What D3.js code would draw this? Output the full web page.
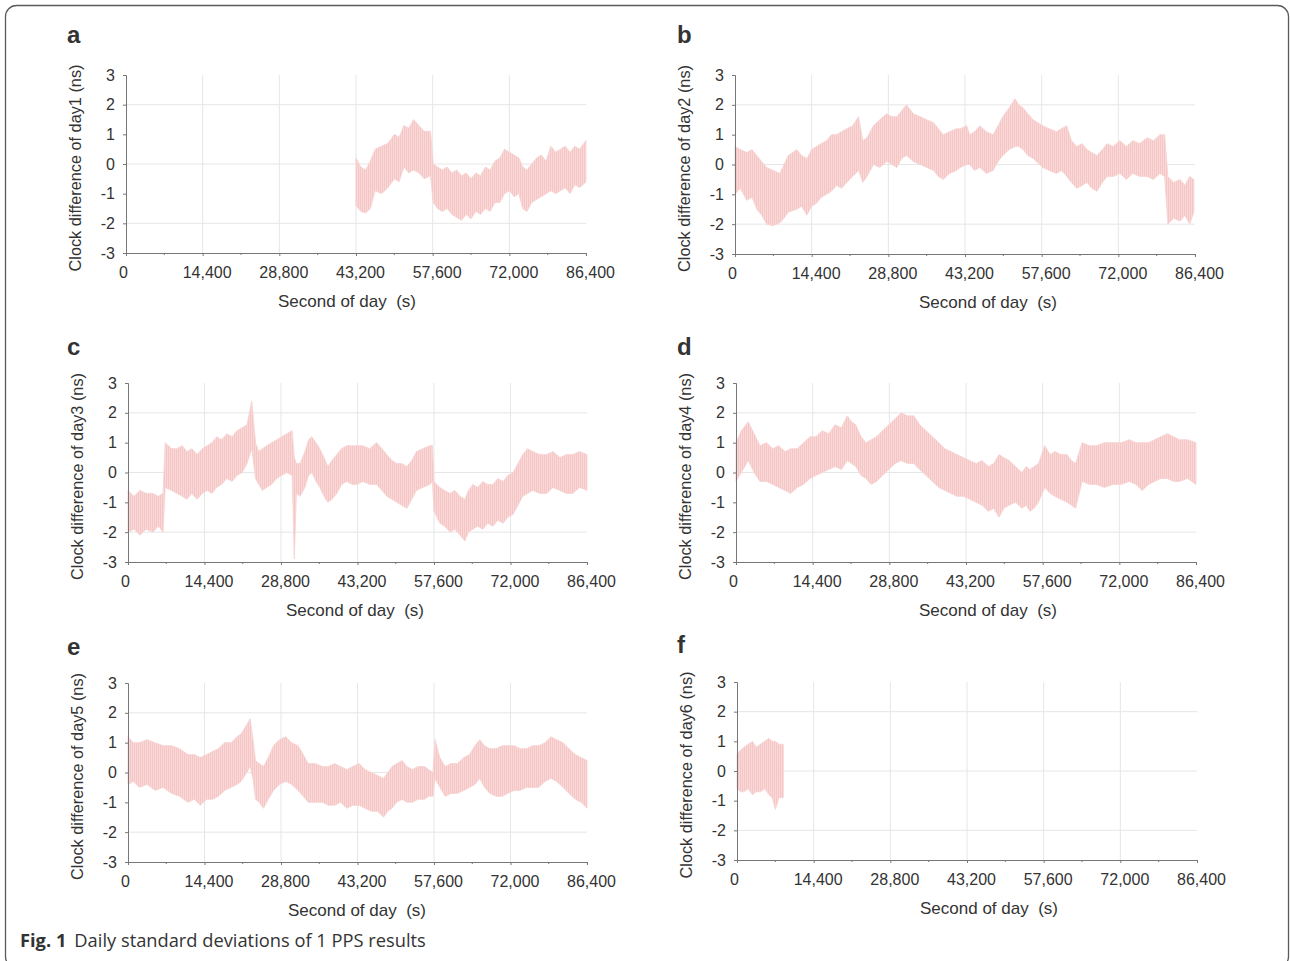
<!DOCTYPE html>
<html>
<head>
<meta charset="utf-8">
<script src="https://cdn.jsdelivr.net/npm/d3@7"></script>
<style>
  body { margin: 0; background: #fff; }
  svg { display: block; }
  text { font-family: "Liberation Sans", Arial, sans-serif; fill: #333; }
</style>
</head>
<body>
<div id="wrapper"></div>
<script>
// each row: [second of day, band low (ns), band high (ns)]
const day1 = [
  [43200, -1.4, 0.2], [44100, -1.6, -0.1], [45000, -1.65, -0.2], [45900, -1.5, 0.1],
  [46800, -0.9, 0.5], [48000, -1.0, 0.6], [49200, -0.8, 0.7], [50400, -0.5, 1.0],
  [51300, -0.6, 0.9], [52200, -0.1, 1.3], [53100, -0.3, 1.2], [54000, -0.2, 1.5],
  [55000, -0.3, 1.3], [56000, -0.5, 1.1], [57200, -0.4, 1.1], [57700, -1.3, 0.0],
  [58500, -1.5, -0.1], [59400, -1.6, -0.2], [60300, -1.5, -0.1], [61200, -1.7, -0.3],
  [62100, -1.8, -0.2], [63000, -1.9, -0.4], [63900, -1.7, -0.3], [64800, -1.85, -0.5],
  [65700, -1.6, -0.3], [66600, -1.7, -0.4], [67500, -1.5, -0.1], [68400, -1.6, -0.2],
  [69300, -1.3, 0.1], [70200, -1.3, 0.2], [71100, -1.0, 0.5], [72000, -0.9, 0.4],
  [72900, -1.1, 0.3], [73800, -1.0, 0.2], [74500, -1.5, -0.1], [75300, -1.6, -0.2],
  [76200, -1.3, 0.0], [77100, -1.2, 0.2], [78000, -1.1, 0.3], [78900, -1.0, 0.1],
  [79800, -0.9, 0.6], [80700, -1.0, 0.4], [81600, -0.9, 0.5], [82500, -0.8, 0.6],
  [83400, -1.0, 0.4], [84300, -0.7, 0.6], [85200, -0.8, 0.5], [86400, -0.6, 0.8]
]
const day2 = [
  [0, -1.0, 0.6], [1000, -0.8, 0.5], [2200, -1.2, 0.4], [3200, -1.1, 0.5],
  [4100, -1.5, 0.3], [5000, -1.7, 0.1], [5950, -2.0, -0.1], [7200, -2.05, -0.2],
  [8450, -1.95, -0.3], [9200, -1.8, 0.0], [10000, -1.6, 0.3], [11600, -1.5, 0.5],
  [12500, -1.4, 0.3], [13500, -1.7, 0.2], [14400, -1.4, 0.5], [15300, -1.3, 0.6],
  [16200, -1.1, 0.7], [17200, -1.0, 0.8], [18100, -0.9, 1.0], [19100, -0.7, 1.0],
  [20000, -0.8, 1.1], [21000, -0.6, 1.2], [22100, -0.4, 1.3], [23200, -0.2, 1.6],
  [24000, -0.6, 0.8], [24800, -0.4, 0.9], [26000, 0.0, 1.3], [27200, -0.1, 1.5],
  [28500, 0.1, 1.7], [29500, 0.0, 1.6], [30400, -0.1, 1.6], [31300, 0.2, 1.8],
  [32200, 0.3, 2.0], [33500, 0.1, 1.7], [34800, 0.0, 1.6], [36000, -0.1, 1.5],
  [37300, -0.2, 1.4], [38200, -0.4, 1.2], [39100, -0.5, 1.0], [40300, -0.3, 1.1],
  [41600, -0.2, 1.2], [42300, -0.1, 1.2], [43500, 0.0, 1.3], [44100, 0.0, 1.0],
  [45000, -0.2, 1.1], [46000, -0.1, 1.3], [47200, -0.3, 1.1], [48500, -0.2, 1.0],
  [49400, 0.1, 1.3], [50300, 0.3, 1.6], [51500, 0.5, 1.9], [52600, 0.6, 2.2],
  [53300, 0.6, 2.0], [54100, 0.5, 1.9], [55000, 0.3, 1.7], [56000, 0.2, 1.5],
  [57800, -0.1, 1.3], [59000, -0.2, 1.2], [60400, -0.3, 1.1], [61300, -0.2, 1.2],
  [62300, -0.4, 1.3], [63200, -0.6, 0.8], [64200, -0.8, 0.6], [65200, -0.7, 0.7],
  [66100, -0.6, 0.5], [67000, -0.8, 0.4], [68000, -0.9, 0.3], [69000, -0.6, 0.5],
  [69900, -0.4, 0.7], [71000, -0.4, 0.6], [72300, -0.3, 0.8], [73500, -0.5, 0.6],
  [74700, -0.3, 0.8], [76000, -0.4, 0.7], [77400, -0.4, 0.9], [78600, -0.5, 0.8],
  [79800, -0.3, 1.0], [80700, -0.4, 1.0], [81300, -2.0, -0.4], [82400, -1.8, -0.6],
  [83600, -1.9, -0.5], [84500, -1.7, -0.7], [85400, -2.0, -0.4], [86200, -1.6, -0.5]
]
const day3 = [
  [0, -2.0, -0.6], [1100, -1.9, -0.8], [2260, -2.1, -0.6], [3400, -1.9, -0.7],
  [4700, -2.0, -0.7], [5700, -1.8, -0.8], [6600, -2.0, -0.7], [7000, -0.5, 1.0],
  [8200, -0.6, 0.8], [9200, -0.7, 0.8], [10200, -0.8, 0.9], [11100, -0.9, 0.7],
  [12000, -0.7, 0.8], [13000, -0.9, 0.6], [14000, -0.7, 0.8], [14900, -0.6, 0.9],
  [15800, -0.7, 1.0], [16700, -0.5, 1.2], [17600, -0.4, 1.1], [18600, -0.2, 1.3],
  [19600, -0.3, 1.2], [20500, -0.1, 1.4], [21500, 0.0, 1.5], [22400, 0.3, 1.6],
  [23300, 0.8, 2.4], [24000, -0.2, 1.0], [24600, -0.4, 0.7], [25300, -0.6, 0.8],
  [26100, -0.5, 0.9], [27000, -0.4, 1.0], [28000, -0.2, 1.1], [28900, -0.1, 1.2],
  [29900, 0.0, 1.3], [30900, -0.1, 1.4], [31300, -2.9, 0.5], [31700, -0.7, 0.3],
  [32400, -0.8, 0.3], [33300, -0.5, 0.7], [34000, -0.1, 1.1], [34600, 0.0, 1.2],
  [35400, -0.3, 1.0], [36100, -0.5, 0.8], [36900, -0.8, 0.5], [37600, -1.0, 0.2],
  [38400, -0.9, 0.4], [39300, -0.7, 0.6], [40200, -0.4, 0.8], [41200, -0.3, 0.9],
  [42200, -0.4, 0.9], [43100, -0.4, 0.9], [44200, -0.3, 0.9], [45500, -0.4, 0.8],
  [46800, -0.4, 1.0], [47800, -0.6, 0.8], [48700, -0.8, 0.6], [49700, -0.9, 0.4],
  [50600, -1.0, 0.3], [51500, -1.1, 0.3], [52500, -1.2, 0.2], [53400, -0.9, 0.4],
  [54300, -0.6, 0.7], [55500, -0.5, 0.8], [56800, -0.4, 0.9], [57300, -0.3, 0.9],
  [57600, -1.3, -0.3], [58700, -1.7, -0.5], [59600, -1.8, -0.6], [60600, -2.0, -0.7],
  [61500, -1.9, -0.6], [62500, -2.1, -0.8], [63400, -2.3, -0.9], [64100, -2.0, -0.6],
  [64900, -1.9, -0.4], [65800, -1.8, -0.5], [66800, -1.9, -0.3], [67700, -1.7, -0.4],
  [68700, -1.8, -0.4], [69600, -1.6, -0.2], [70600, -1.7, -0.3], [71500, -1.5, -0.1],
  [72500, -1.4, 0.0], [73400, -1.1, 0.3], [74300, -0.8, 0.6], [75200, -0.7, 0.8],
  [76200, -0.6, 0.7], [77500, -0.7, 0.6], [78800, -0.7, 0.6], [80000, -0.5, 0.7],
  [81300, -0.6, 0.5], [82500, -0.7, 0.6], [83700, -0.7, 0.6], [85000, -0.5, 0.7],
  [86400, -0.6, 0.6]
]
const day4 = [
  [0, -0.3, 1.0], [1000, 0.0, 1.4], [2300, 0.4, 1.7], [3400, 0.0, 1.3],
  [4500, -0.3, 0.9], [5700, -0.3, 1.0], [6900, -0.4, 0.8], [8000, -0.5, 0.9],
  [9200, -0.6, 0.7], [10300, -0.7, 0.8], [11500, -0.5, 0.8], [12700, -0.4, 1.0],
  [13900, -0.2, 1.2], [15000, -0.1, 1.2], [16200, 0.0, 1.4], [17400, 0.1, 1.3],
  [18600, 0.2, 1.6], [19800, 0.1, 1.5], [20900, 0.4, 1.9], [21700, 0.3, 1.7],
  [22500, 0.2, 1.6], [23500, -0.1, 1.2], [24400, -0.2, 1.0], [25400, -0.4, 1.1],
  [26400, -0.3, 1.2], [27500, -0.1, 1.4], [28700, 0.1, 1.6], [29900, 0.3, 1.8],
  [31000, 0.4, 2.0], [32200, 0.3, 1.9], [33400, 0.3, 1.9], [34500, 0.1, 1.6],
  [35700, -0.1, 1.4], [36900, -0.3, 1.2], [38100, -0.5, 1.0], [39200, -0.6, 0.8],
  [40400, -0.7, 0.7], [41500, -0.8, 0.6], [42700, -0.8, 0.5], [43900, -0.9, 0.4],
  [45100, -1.0, 0.3], [46200, -1.1, 0.4], [47400, -1.3, 0.2], [48400, -1.2, 0.3],
  [49400, -1.5, 0.6], [50300, -1.2, 0.5], [51300, -1.1, 0.4], [52500, -1.0, 0.2],
  [53700, -1.2, 0.0], [54500, -1.1, 0.2], [55200, -1.3, 0.1], [56000, -1.2, 0.2],
  [56800, -1.0, 0.3], [58000, -0.5, 0.9], [59000, -0.7, 0.6], [59900, -0.8, 0.7],
  [61000, -0.9, 0.6], [62200, -1.0, 0.6], [63000, -1.1, 0.4], [63800, -1.2, 0.3],
  [65000, -0.3, 1.0], [66400, -0.4, 0.9], [67700, -0.4, 0.9], [69200, -0.5, 1.0],
  [70800, -0.4, 1.0], [72300, -0.4, 1.0], [73900, -0.3, 1.1], [75100, -0.4, 1.0],
  [76300, -0.6, 1.0], [77500, -0.4, 1.0], [78600, -0.3, 1.1], [79800, -0.2, 1.2],
  [81000, -0.2, 1.3], [82200, -0.3, 1.2], [83300, -0.3, 1.1], [84800, -0.2, 1.1],
  [86400, -0.4, 1.0]
]
const day5 = [
  [0, -0.4, 1.2], [1000, -0.3, 1.0], [2100, -0.5, 1.0], [3600, -0.4, 1.1],
  [5100, -0.6, 1.0], [6600, -0.5, 0.9], [8200, -0.7, 0.9], [9700, -0.8, 0.8],
  [11300, -1.0, 0.6], [12500, -0.9, 0.6], [13600, -1.1, 0.5], [14800, -0.9, 0.6],
  [15900, -0.9, 0.7], [17000, -0.8, 0.8], [18200, -0.6, 1.0], [19400, -0.5, 1.0],
  [20500, -0.4, 1.2], [21300, -0.3, 1.3], [22000, -0.1, 1.5], [23000, 0.2, 1.8],
  [23600, -0.3, 1.0], [24000, -0.9, 0.4], [24700, -1.0, 0.3], [25500, -1.2, 0.2],
  [26400, -0.9, 0.5], [27400, -0.6, 0.9], [28500, -0.4, 1.1], [29700, -0.3, 1.2],
  [30800, -0.4, 1.0], [32000, -0.6, 0.9], [33000, -0.8, 0.6], [33900, -1.0, 0.3],
  [35200, -1.0, 0.3], [36600, -1.0, 0.2], [37700, -1.1, 0.2], [38900, -1.1, 0.3],
  [40000, -1.0, 0.2], [41200, -1.2, 0.1], [42300, -1.1, 0.2], [43500, -1.1, 0.3],
  [44600, -1.2, 0.1], [45800, -1.3, 0.0], [47000, -1.3, -0.1], [48100, -1.5, -0.2],
  [48900, -1.3, 0.0], [49700, -1.2, 0.2], [50600, -1.0, 0.3], [51600, -0.9, 0.4],
  [52500, -1.0, 0.2], [53500, -1.0, 0.1], [54600, -0.9, 0.2], [55800, -0.9, 0.2],
  [56600, -0.8, 0.1], [57400, -0.8, 0.0], [57800, -0.2, 1.1], [58700, -0.5, 0.5],
  [59700, -0.8, 0.2], [60800, -0.7, 0.3], [62000, -0.7, 0.3], [63200, -0.6, 0.5],
  [64300, -0.5, 0.6], [65300, -0.4, 0.9], [66200, -0.2, 1.1], [67100, -0.5, 0.9],
  [68100, -0.7, 0.8], [69300, -0.8, 0.8], [70400, -0.8, 0.9], [71500, -0.7, 0.9],
  [72700, -0.6, 0.9], [73800, -0.6, 0.8], [75000, -0.5, 0.8], [76200, -0.5, 0.9],
  [77300, -0.5, 0.9], [78500, -0.3, 1.0], [79600, -0.2, 1.2], [80700, -0.3, 1.1],
  [81900, -0.5, 1.0], [83000, -0.7, 0.8], [84200, -0.9, 0.6], [85300, -1.0, 0.5],
  [86400, -1.2, 0.4]
]
const day6 = [
  [0, -0.6, 0.6], [700, -0.7, 0.7], [1300, -0.7, 0.8], [2100, -0.6, 0.9],
  [2900, -0.8, 1.0], [3600, -0.7, 0.8], [4400, -0.7, 0.9], [5200, -0.6, 1.0],
  [6000, -0.8, 1.1], [6600, -0.9, 1.0], [7200, -1.3, 1.0], [7900, -0.9, 0.9],
  [8700, -0.9, 0.9]
]

const xTicks = [0, 14400, 28800, 43200, 57600, 72000, 86400]
const xMinorTicks = [7200, 21600, 36000, 50400, 64800, 79200]
const yTicks = [-3, -2, -1, 0, 1, 2, 3]
const yGrid = [-2, 0, 2]
const panelLetters = ["a", "b", "c", "d", "e", "f"]
const yTitles = [1, 2, 3, 4, 5, 6].map(d => `Clock difference of day${d} (ns)`)
const xTitle = "Second of day\u00a0\u00a0(s)"
const days = [day1, day2, day3, day4, day5, day6]

// plot rectangles
const frames = [
  { left: 126, right: 586, top: 75, bottom: 253, letterX: 67, letterY: 43, titleX: 347 },
  { left: 735, right: 1195, top: 75, bottom: 254, letterX: 677, letterY: 43, titleX: 988 },
  { left: 128, right: 587, top: 383, bottom: 562, letterX: 67, letterY: 355, titleX: 355 },
  { left: 736, right: 1196, top: 383, bottom: 562, letterX: 677, letterY: 355, titleX: 988 },
  { left: 128, right: 587, top: 683, bottom: 862, letterX: 67, letterY: 655, titleX: 357 },
  { left: 737, right: 1197, top: 682, bottom: 860, letterX: 677, letterY: 653, titleX: 989 },
]

const width = 1290
const height = 961

const svg = d3.select("#wrapper")
  .append("svg")
    .attr("width", width)
    .attr("height", height)

// fine streaky fill so the band looks like the dense oscillating trace
const defs = svg.append("defs")
const pattern = defs.append("pattern")
    .attr("id", "streak")
    .attr("patternUnits", "userSpaceOnUse")
    .attr("width", 2)
    .attr("height", 6)
pattern.append("rect")
    .attr("width", 2).attr("height", 6)
    .attr("fill", "#fad8d8")
pattern.append("rect")
    .attr("width", 1).attr("height", 6)
    .attr("fill", "#f5c6c6")

// outer frame of the figure
svg.append("rect")
    .attr("x", 5.5)
    .attr("y", 5.5)
    .attr("width", 1283)
    .attr("height", 962)
    .attr("rx", 11)
    .attr("fill", "none")
    .attr("stroke", "#5a5a5a")
    .attr("stroke-width", 1.3)

frames.forEach((f, i) => {
  const data = days[i]
  const g = svg.append("g")

  const xScale = d3.scaleLinear()
      .domain([0, 86400])
      .range([f.left, f.right])
  const yScale = d3.scaleLinear()
      .domain([-3, 3])
      .range([f.bottom, f.top])

  // grid
  g.append("g").selectAll("line")
      .data(xTicks.slice(1, -1))
    .join("line")
      .attr("x1", d => xScale(d)).attr("x2", d => xScale(d))
      .attr("y1", yScale(3)).attr("y2", yScale(-3))
      .attr("stroke", "#e6e6e6")
  g.append("g").selectAll("line")
      .data(yGrid)
    .join("line")
      .attr("x1", xScale(0)).attr("x2", xScale(86400))
      .attr("y1", d => yScale(d)).attr("y2", d => yScale(d))
      .attr("stroke", "#e6e6e6")

  // the band
  const area = d3.area()
      .x(d => xScale(d[0]))
      .y0(d => yScale(d[1]))
      .y1(d => yScale(d[2]))
  g.append("path")
      .datum(data)
      .attr("d", area)
      .attr("fill", "url(#streak)")
      .attr("stroke", "#f8d2d2")
      .attr("stroke-width", 0.8)

  // axes
  const xAxis = g.append("g")
      .attr("transform", `translate(0,${f.bottom})`)
      .call(d3.axisBottom(xScale)
        .tickValues(xTicks)
        .tickFormat(d3.format(","))
        .tickSize(3)
        .tickPadding(11))
  xAxis.append("g").selectAll("line")
      .data(xMinorTicks)
    .join("line")
      .attr("x1", d => xScale(d)).attr("x2", d => xScale(d))
      .attr("y1", 0).attr("y2", 2)
      .attr("stroke", "#777")
  xAxis.selectAll("text")
      .style("font-size", "16px")
      .attr("fill", "#333")
      .attr("dx", d => d === 0 ? -3 : 4)

  const yAxis = g.append("g")
      .attr("transform", `translate(${f.left},0)`)
      .call(d3.axisLeft(yScale)
        .tickValues(yTicks)
        .tickFormat(d => String(d))
        .tickSize(3)
        .tickPadding(8))
  yAxis.selectAll("text")
      .style("font-size", "16px")
      .attr("fill", "#333")

  g.selectAll(".domain").attr("stroke", "#777")
  g.selectAll(".tick line").attr("stroke", "#777")

  // titles
  g.append("text")
      .attr("x", f.titleX)
      .attr("y", f.bottom + 54)
      .attr("text-anchor", "middle")
      .style("font-size", "17px")
      .text(xTitle)
  g.append("text")
      .attr("transform", `translate(${f.left - 45},${(f.top + f.bottom) / 2 + 4}) rotate(-90)`)
      .attr("text-anchor", "middle")
      .style("font-size", "16.3px")
      .text(yTitles[i])
  g.append("text")
      .attr("x", f.letterX)
      .attr("y", f.letterY)
      .style("font-size", "24px")
      .style("font-weight", "bold")
      .attr("fill", "#111")
      .text(panelLetters[i])
})

// caption
const caption = svg.append("text")
    .attr("x", 20)
    .attr("y", 947)
    .style("font-family", "'Open Sans', 'Noto Sans', sans-serif")
    .style("font-size", "18.3px")
    .attr("fill", "#222")
caption.append("tspan")
    .style("font-weight", "bold")
    .text("Fig. 1")
caption.append("tspan")
    .attr("dx", 8)
    .text("Daily standard deviations of 1 PPS results")
</script>
</body>
</html>
